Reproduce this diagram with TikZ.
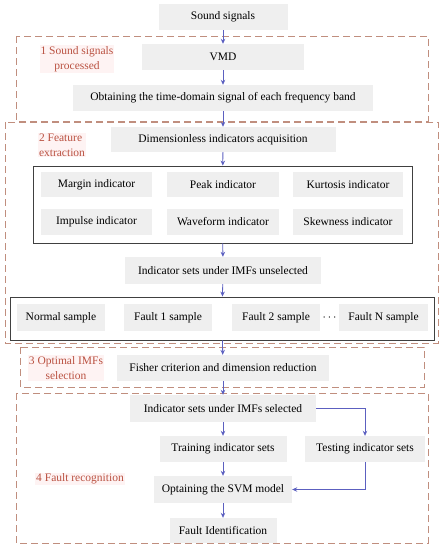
\documentclass[tikz,border=0pt]{standalone}
\usepackage{fontspec}
\setmainfont{Liberation Serif}
\usetikzlibrary{arrows.meta}

\definecolor{boxgray}{RGB}{239,239,239}
\definecolor{flowblue}{RGB}{92,96,192}
\definecolor{stagebrown}{RGB}{192,142,126}
\definecolor{stagered}{RGB}{186,82,66}
\definecolor{stagepink}{RGB}{254,243,243}

\tikzset{
  proc/.style={fill=boxgray, inner sep=0pt, minimum height=26pt, font=\fontsize{11.5}{13}\selectfont},
  flow/.style={draw=flowblue, -{Stealth[length=5pt,width=4.5pt]}, line width=0.8pt},
  stage/.style={draw=stagebrown, dash pattern=on 7pt off 4pt, line width=1pt},
  group/.style={draw=black!75, line width=0.9pt, inner sep=0pt},
  stagelabel/.style={text=stagered, fill=stagepink, inner sep=1pt, font=\fontsize{11.5}{15}\selectfont}
}

\begin{document}
\begin{tikzpicture}[x=1pt,y=-1pt]
    \useasboundingbox (0,0) rectangle (446,550);

%   stage frames
    \draw [stage] (16,36) rectangle (428,121);
    \draw [stage] (5,122) rectangle (438,343);
    \draw [stage] (20,347) rectangle (424,387);
    \draw [stage] (16,393) rectangle (428,543);

    \node [stagelabel, align=center] (lab1) at (77,59) {1 Sound signals\\processed};
    \node [stagelabel, align=left] (lab2) at (62,145) {2 Feature\\extraction};
    \node [stagelabel, align=center] (lab3) at (66,368) {3 Optimal IMFs\\selection};
    \node [stagelabel] (lab4) at (80,479) {4 Fault recognition};

%   stage 1
    \node [proc, minimum width=129pt] (sound) at (223,17) {Sound signals};
    \node [proc, minimum width=162pt] (vmd) at (223,57) {VMD};
    \node [proc, minimum width=300pt] (band) at (223,98) {Obtaining the time-domain signal of each frequency band};

%   stage 2
    \node [proc, minimum width=225pt, minimum height=25pt] (dimless) at (223,139.5) {Dimensionless indicators acquisition};
    \node [group, minimum width=379pt, minimum height=77pt] (indic) at (222.5,204.5) {};
    \node [proc, minimum width=111pt, minimum height=25pt] (margin) at (96.5,184.5) {Margin indicator};
    \node [proc, minimum width=112pt, minimum height=25pt] (peak) at (223,184.5) {Peak indicator};
    \node [proc, minimum width=110pt, minimum height=25pt] (kurt) at (348,184.5) {Kurtosis indicator};
    \node [proc, minimum width=111pt] (impulse) at (96.5,222) {Impulse indicator};
    \node [proc, minimum width=112pt] (wave) at (223,222) {Waveform indicator};
    \node [proc, minimum width=110pt] (skew) at (348,222) {Skewness indicator};
    \node [proc, minimum width=196pt, minimum height=27pt] (unsel) at (223,270.5) {Indicator sets under IMFs unselected};
    \node [group, minimum width=424pt, minimum height=43pt] (samples) at (222,318.5) {};
    \node [proc, minimum width=88pt, minimum height=27pt] (normal) at (61,317.5) {Normal sample};
    \node [proc, minimum width=88pt, minimum height=27pt] (fault1) at (168,317.5) {Fault 1 sample};
    \node [proc, minimum width=88pt, minimum height=27pt] (fault2) at (276,317.5) {Fault 2 sample};
    \node [font=\fontsize{11.5}{13}\selectfont] (dots) at (329.5,318) {$\cdots$};
    \node [proc, minimum width=89pt, minimum height=27pt] (faultn) at (383.5,317.5) {Fault N sample};

%   stage 3
    \node [proc, minimum width=212pt] (fisher) at (223,368) {Fisher criterion and dimension reduction};

%   stage 4
    \node [proc, minimum width=186pt, minimum height=27pt] (sel) at (223,408.5) {Indicator sets under IMFs selected};
    \node [proc, minimum width=127pt] (train) at (223,449) {Training indicator sets};
    \node [proc, minimum width=120pt] (test) at (365,449) {Testing indicator sets};
    \node [proc, minimum width=138pt, minimum height=27pt] (svm) at (223,489.5) {Optaining the SVM model};
    \node [proc, minimum width=107pt, minimum height=25pt] (ident) at (223,530.5) {Fault Identification};

%   flow
    \draw [flow] (sound) -- (vmd);
    \draw [flow] (vmd) -- (band);
    \draw [flow] (band) -- (dimless);
    \draw [flow] (dimless) -- (indic);
    \draw [flow] (indic) -- (unsel);
    \draw [flow] (unsel) -- (samples);
    \draw [flow] (samples) -- (fisher);
    \draw [flow] (fisher) -- (sel);
    \draw [flow] (sel) -- (train);
    \draw [flow] (sel.east) -| (test.north);
    \draw [flow] (train) -- (svm);
    \draw [flow] (test.south) |- (svm.east);
    \draw [flow] (svm) -- (ident);
  \end{tikzpicture}
\end{document}
